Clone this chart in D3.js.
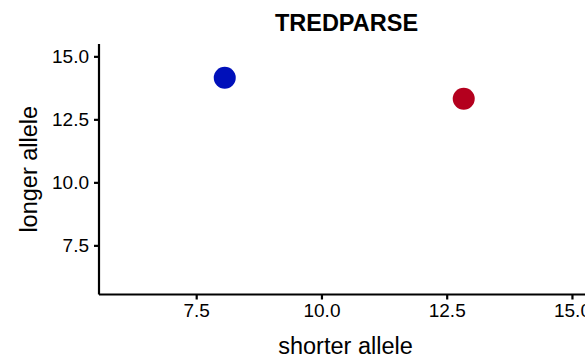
<!DOCTYPE html>
<html>
<head>
<meta charset="utf-8">
<script src="https://cdn.jsdelivr.net/npm/d3@7"></script>
<style>
  html, body { margin: 0; padding: 0; background: #fff; }
  svg { display: block; }
  text { font-family: "Liberation Sans", Arial, Helvetica, sans-serif; fill: #000; }
</style>
</head>
<body>
<svg id="chart" width="585" height="361"></svg>
<script>
// Allele lengths called by TREDPARSE
const samples = ["sample A", "sample B"];
const shorterAllele = [8.07, 12.84];
const longerAllele = [14.15, 13.32];
const pointColors = ["#0010BA", "#B4001E"];
const xTicks = [7.5, 10.0, 12.5, 15.0];
const yTicks = [7.5, 10.0, 12.5, 15.0];
const xDomain = [5.56, 15.46];
const yDomain = [5.55, 15.49];

const svg = d3.select("#chart");
const margin = { left: 99, right: -10, top: 44, bottom: 66.5 };
const W = 585, H = 361;

const x = d3.scaleLinear().domain(xDomain).range([margin.left, W - margin.right]);
const y = d3.scaleLinear().domain(yDomain).range([H - margin.bottom, margin.top]);

// points
svg.append("g")
  .selectAll("circle")
  .data(samples.map((s, i) => ({ s, sx: shorterAllele[i], lx: longerAllele[i], c: pointColors[i] })))
  .join("circle")
  .attr("cx", d => x(d.sx))
  .attr("cy", d => y(d.lx))
  .attr("r", 11)
  .attr("fill", d => d.c);

// x axis
const xAxis = svg.append("g")
  .attr("transform", `translate(0,${H - margin.bottom})`)
  .call(d3.axisBottom(x).tickValues(xTicks).tickFormat(d3.format(".1f")).tickSize(5).tickPadding(4));
// y axis
const yAxis = svg.append("g")
  .attr("transform", `translate(${margin.left},0)`)
  .call(d3.axisLeft(y).tickValues(yTicks).tickFormat(d3.format(".1f")).tickSize(5).tickPadding(5));

[xAxis, yAxis].forEach(g => {
  g.select(".domain").attr("stroke", "#000").attr("stroke-width", 2.2);
  g.selectAll(".tick line").attr("stroke", "#000").attr("stroke-width", 2.2);
  g.selectAll(".tick text").attr("font-size", 19).attr("fill", "#000")
    .attr("font-family", "'Liberation Sans', Arial, Helvetica, sans-serif");
});
// domain path without outer ticks
xAxis.select(".domain").attr("d", `M${margin.left},0H${W - margin.right}`);
yAxis.select(".domain").attr("d", `M0,${H - margin.bottom}V${margin.top}`);

// title
svg.append("text")
  .attr("x", 346.5).attr("y", 31)
  .attr("text-anchor", "middle")
  .attr("font-size", 23.5).attr("font-weight", "bold")
  .text("TREDPARSE");

// axis titles
svg.append("text")
  .attr("x", 345.5).attr("y", 353.5)
  .attr("text-anchor", "middle")
  .attr("font-size", 23.5)
  .text("shorter allele");

svg.append("text")
  .attr("transform", `translate(37,${(margin.top + H - margin.bottom) / 2}) rotate(-90)`)
  .attr("text-anchor", "middle")
  .attr("font-size", 23.5)
  .text("longer allele");
</script>
</body>
</html>
